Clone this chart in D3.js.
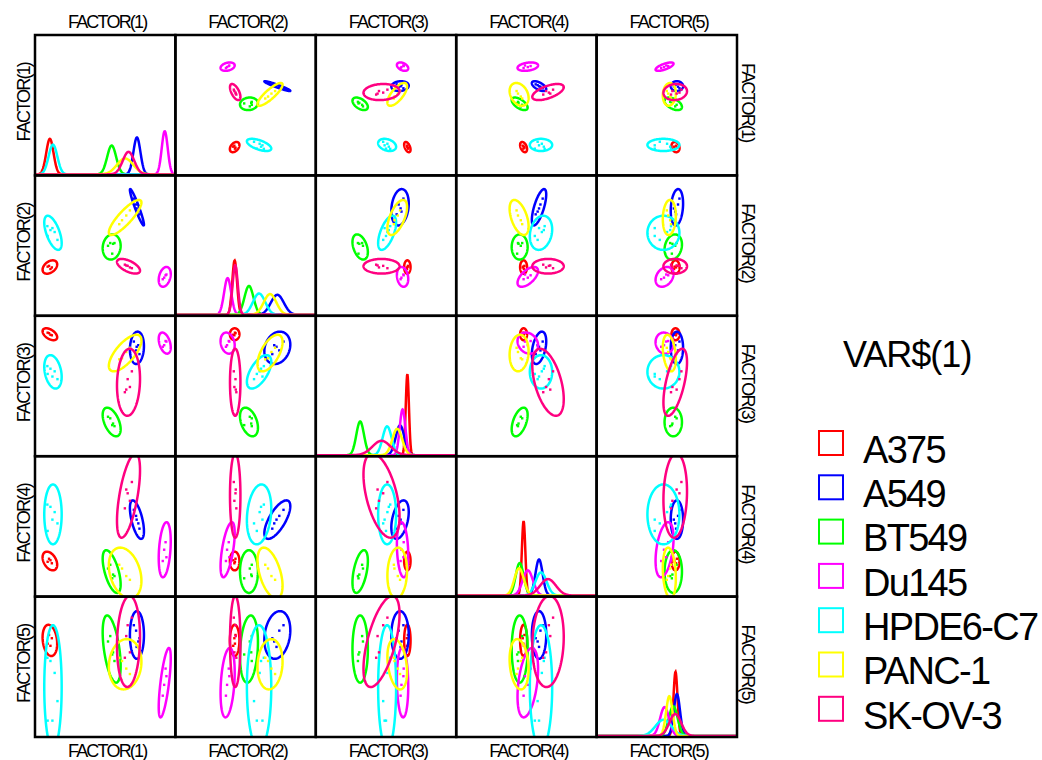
<!DOCTYPE html>
<html>
<head>
<meta charset="utf-8">
<script src="https://cdn.jsdelivr.net/npm/d3@7"></script>
<style>
  html, body { margin: 0; padding: 0; background: #fff; }
  text { font-family: "Liberation Sans", Arial, sans-serif; fill: #000; }
</style>
</head>
<body>
<svg id="chart" width="1042" height="760"></svg>
<script>
// ---------------- data ----------------
const groups = ["A375", "A549", "BT549", "Du145", "HPDE6-C7", "PANC-1", "SK-OV-3"];
const groupColors = ["#ff0000", "#0000ff", "#00ff00", "#ff00ff", "#00ffff", "#ffff00", "#ff0080"];
const factorLabels = ["FACTOR(1)", "FACTOR(2)", "FACTOR(3)", "FACTOR(4)", "FACTOR(5)"];
const legendTitle = "VAR$(1)";

// group means for each factor (order of groups above)
const meanF1 = [-1.97, 1.13, 0.23, 2.12, -1.86, 0.71, 0.83];
const meanF2 = [-0.39, 1.13, 0.12, -0.64, 0.48, 0.87, -0.37];
const meanF3 = [0.76, 0.50, -0.92, 0.59, 0.04, 0.40, -0.16];
const meanF4 = [-0.10, 0.45, -0.24, 0.05, 0.52, -0.26, 0.77];
const meanF5 = [0.31, 0.36, 0.23, -0.08, -0.12, 0.09, 0.30];

// group standard deviations for each factor
const sdF1 = [0.130, 0.125, 0.160, 0.107, 0.155, 0.290, 0.205];
const sdF2 = [0.085, 0.231, 0.160, 0.126, 0.217, 0.223, 0.093];
const sdF3 = [0.057, 0.155, 0.137, 0.101, 0.160, 0.175, 0.321];
const sdF4 = [0.062, 0.128, 0.142, 0.183, 0.199, 0.169, 0.280];
const sdF5 = [0.072, 0.110, 0.155, 0.160, 0.285, 0.116, 0.210];

// within-group correlations for each factor pair
const corr12 = [0.4, -0.95, 0.1, 0.3, -0.6, 0.85, -0.6];
const corr13 = [-0.5, 0.1, -0.5, -0.4, -0.3, 0.7, 0.1];
const corr23 = [0.0, 0.2, -0.4, -0.2, 0.6, 0.6, 0.0];
const corr14 = [-0.4, -0.6, -0.6, 0.3, 0.0, -0.3, 0.6];
const corr24 = [0.0, 0.7, 0.0, 0.6, 0.2, -0.5, 0.0];
const corr34 = [0.0, 0.4, 0.5, -0.2, 0.0, 0.1, -0.5];
const corr15 = [-0.2, 0.0, -0.5, 0.7, 0.0, 0.1, 0.1];
const corr25 = [0.0, 0.2, 0.2, 0.3, 0.0, 0.1, 0.0];
const corr35 = [0.0, 0.0, 0.0, -0.1, 0.0, -0.3, 0.6];
const corr45 = [0.0, 0.0, 0.0, 0.4, 0.0, -0.2, 0.1];

// observed cases: [F1, F2, F3, F4, F5]
const pointsA375 = [[-2.00, -0.36, 0.78, -0.07, 0.36], [-1.90, -0.40, 0.74, -0.13, 0.33], [-1.95, -0.44, 0.75, -0.09, 0.26], [-2.05, -0.38, 0.79, -0.11, 0.28]];
const pointsA549 = [[1.02, 1.35, 0.62, 0.58, 0.45], [1.10, 1.20, 0.45, 0.50, 0.40], [1.18, 1.02, 0.55, 0.40, 0.30], [1.22, 0.95, 0.38, 0.33, 0.33], [1.12, 1.10, 0.52, 0.45, 0.25]];
const pointsBT549 = [[0.18, 0.22, -0.85, -0.15, 0.35], [0.28, 0.20, -0.95, -0.28, 0.20], [0.33, 0.22, -1.00, -0.30, 0.12], [0.10, 0.15, -0.82, -0.20, 0.30], [0.25, -0.05, -0.98, -0.33, 0.18]];
const pointsDu145 = [[2.15, -0.60, 0.63, 0.15, 0.05], [2.10, -0.66, 0.55, 0.05, -0.10], [2.18, -0.58, 0.62, -0.05, -0.02], [2.05, -0.70, 0.52, -0.10, -0.20]];
const pointsHPDE6 = [[-2.06, 0.65, 0.15, 0.65, 0.15], [-1.95, 0.55, 0.10, 0.62, 0.12], [-1.80, 0.50, 0.05, 0.55, 0.01], [-1.70, 0.30, -0.10, 0.40, -0.25], [-2.05, 0.40, 0.00, 0.30, -0.43], [-1.88, 0.60, -0.05, 0.45, -0.43]];
const pointsPANC1 = [[0.60, 0.80, 0.30, -0.20, 0.12], [0.75, 0.92, 0.42, -0.30, 0.05], [0.88, 1.05, 0.50, -0.35, 0.00], [0.50, 0.70, 0.28, -0.15, 0.15]];
const pointsSKOV3 = [[0.95, -0.42, 0.05, 0.95, 0.52], [0.80, -0.36, -0.10, 0.80, 0.45], [0.70, -0.33, -0.35, 0.60, 0.15], [0.88, -0.40, -0.25, 0.70, 0.20], [0.75, -0.35, -0.30, 0.85, 0.35]];

// axis domains of each factor (horizontal and vertical)
const factorXDomain = [-2.5, 2.5];
const factorYDomains = [[-3.41, 3.73], [-1.63, 1.94], [-1.575, 1.113], [-0.573, 1.293], [-0.581, 0.714]];
const densityDomain = [0, 12];

// ---------------- derived tables ----------------
const means = [meanF1, meanF2, meanF3, meanF4, meanF5];
const sds = [sdF1, sdF2, sdF3, sdF4, sdF5];
const points = [pointsA375, pointsA549, pointsBT549, pointsDu145, pointsHPDE6, pointsPANC1, pointsSKOV3];
const corrTable = {
  "0-1": corr12, "0-2": corr13, "1-2": corr23, "0-3": corr14, "1-3": corr24,
  "2-3": corr34, "0-4": corr15, "1-4": corr25, "2-4": corr35, "3-4": corr45
};
function corrOf(a, b, g) {
  const key = Math.min(a, b) + "-" + Math.max(a, b);
  return corrTable[key][g];
}

// ---------------- layout ----------------
const svg = d3.select("#chart");
const nF = factorLabels.length;
const gridLeft = 35, gridTop = 35, gridSize = 702;
const cell = gridSize / nF;
const ELLIPSE_K = 2;
const STROKE = 2.5;

const colBand = d3.scaleBand().domain(d3.range(nF)).range([gridLeft, gridLeft + gridSize]).padding(0);
const rowBand = d3.scaleBand().domain(d3.range(nF)).range([gridTop, gridTop + gridSize]).padding(0);

function xScale(f, col) {
  const x0 = colBand(col);
  return d3.scaleLinear().domain(factorXDomain).range([x0, x0 + cell]);
}
function yScale(f, row) {
  const y0 = rowBand(row);
  return d3.scaleLinear().domain(factorYDomains[f]).range([y0 + cell, y0]);
}

const defs = svg.append("defs");
const line = d3.line().curve(d3.curveLinearClosed);
const openLine = d3.line();

for (let r = 0; r < nF; r++) {
  for (let c = 0; c < nF; c++) {
    const id = "clip-" + r + "-" + c;
    defs.append("clipPath").attr("id", id).append("rect")
      .attr("x", colBand(c)).attr("y", rowBand(r))
      .attr("width", cell).attr("height", cell);
    const g = svg.append("g").attr("clip-path", "url(#" + id + ")");
    const xs = xScale(c, c);
    if (r === c) {
      // density curves on the diagonal
      const yd = d3.scaleLinear().domain(densityDomain).range([rowBand(r) + cell - 1, rowBand(r) + cell - 1 - cell * 0.99]);
      groups.forEach((name, gi) => {
        const m = means[c][gi], s = sds[c][gi];
        const n = 400;
        const pts = d3.range(n + 1).map(i => {
          const v = factorXDomain[0] + (factorXDomain[1] - factorXDomain[0]) * i / n;
          const pdf = Math.exp(-0.5 * ((v - m) / s) ** 2) / (s * Math.sqrt(2 * Math.PI));
          return [xs(v), yd(pdf)];
        });
        g.append("path").attr("d", openLine(pts))
          .attr("fill", "none").attr("stroke", groupColors[gi]).attr("stroke-width", STROKE);
      });
    } else {
      const ys = yScale(r, r);
      groups.forEach((name, gi) => {
        const mx = means[c][gi], my = means[r][gi];
        const sx = sds[c][gi], sy = sds[r][gi];
        const rho = corrOf(r, c, gi);
        const q = Math.sqrt(Math.max(0, 1 - rho * rho));
        const pts = d3.range(0, 360, 3).map(a => {
          const t = a * Math.PI / 180;
          const vx = mx + ELLIPSE_K * sx * Math.cos(t);
          const vy = my + ELLIPSE_K * sy * (rho * Math.cos(t) + q * Math.sin(t));
          return [xs(vx), ys(vy)];
        });
        g.append("path").attr("d", line(pts))
          .attr("fill", "none").attr("stroke", groupColors[gi]).attr("stroke-width", STROKE);
        g.selectAll(null).data(points[gi]).enter().append("rect")
          .attr("x", d => xs(d[c]) - 1.2).attr("y", d => ys(d[r]) - 1.2)
          .attr("width", 2.4).attr("height", 2.4)
          .attr("fill", groupColors[gi]);
      });
    }
  }
}

// cell frames
for (let r = 0; r < nF; r++) {
  for (let c = 0; c < nF; c++) {
    svg.append("rect").attr("x", colBand(c)).attr("y", rowBand(r))
      .attr("width", cell).attr("height", cell)
      .attr("fill", "none").attr("stroke", "#000").attr("stroke-width", 2.5);
  }
}

// factor labels
const labelStyle = sel => sel.attr("font-size", 18).attr("letter-spacing", "-1.8px").attr("text-anchor", "middle");
factorLabels.forEach((lab, i) => {
  const cx = colBand(i) + cell / 2 + 2;
  const cy = rowBand(i) + cell / 2 - 3;
  svg.append("text").text(lab).attr("x", cx).attr("y", 28).call(labelStyle);
  svg.append("text").text(lab).attr("x", cx).attr("y", 757).call(labelStyle);
  svg.append("text").text(lab).attr("transform", `translate(30,${cy}) rotate(-90)`).call(labelStyle);
  svg.append("text").text(lab).attr("transform", `translate(742,${cy}) rotate(90)`).call(labelStyle);
});

// legend
svg.append("text").text(legendTitle).attr("x", 843).attr("y", 367)
  .attr("font-size", 36).attr("letter-spacing", "-1px");
const legendY = d3.scalePoint().domain(groups).range([443, 443 + 44.3 * (groups.length - 1)]);
groups.forEach((name, gi) => {
  const cy = legendY(name);
  svg.append("rect").attr("x", 819).attr("y", cy - 12).attr("width", 24).attr("height", 24)
    .attr("fill", "none").attr("stroke", groupColors[gi]).attr("stroke-width", 2);
  svg.append("text").text(name).attr("x", 863).attr("y", cy + 19.7)
    .attr("font-size", 38).attr("letter-spacing", "-1.7px");
});
</script>
</body>
</html>
